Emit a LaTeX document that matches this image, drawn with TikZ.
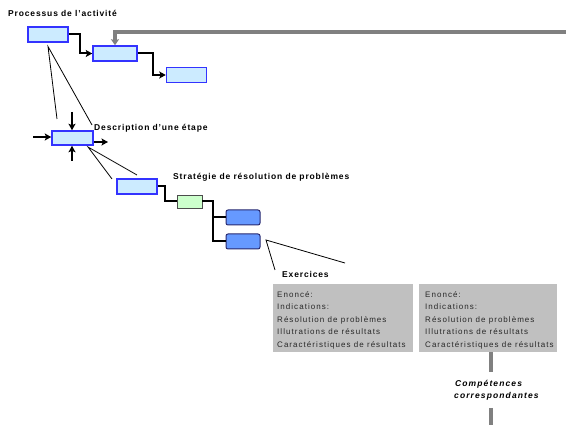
\documentclass[tikz,border=0pt]{standalone}
\usepackage{fontspec}
\setmainfont{Liberation Sans}
\newfontfamily\bsp[LetterSpace=10]{Liberation Sans}
\newfontfamily\rsp[LetterSpace=13]{Liberation Sans}
\newfontfamily\isp[LetterSpace=13]{Liberation Sans}
\usetikzlibrary{arrows.meta}
\definecolor{boxblue}{RGB}{51,51,255}
\definecolor{lightblue}{RGB}{204,235,255}
\definecolor{lightgreen}{RGB}{204,255,204}
\definecolor{midblue}{RGB}{102,153,255}
\definecolor{navy}{RGB}{40,40,110}
\definecolor{boxgray}{RGB}{192,192,192}
\definecolor{linegray}{RGB}{128,128,128}
\definecolor{textgray}{RGB}{40,40,40}
\begin{document}
\begin{tikzpicture}[x=1pt,y=-1pt,
  lbox/.style={draw=boxblue, fill=lightblue, line width=1.5pt, minimum width=40pt, minimum height=15pt, inner sep=0pt},
  gnbox/.style={draw=black!70, fill=lightgreen, line width=0.8pt, minimum width=25pt, minimum height=13pt, inner sep=0pt},
  rbox/.style={draw=navy, fill=midblue, rounded corners=2pt, line width=1pt, minimum width=34pt, minimum height=15pt, inner sep=0pt},
  graybox/.style={fill=boxgray, minimum width=140pt, minimum height=68pt, inner sep=0pt},
  conn/.style={line width=2pt, draw=black},
  arr/.style={conn, -{Stealth[length=6.5pt,width=7pt,inset=1.5pt]}},
  thinline/.style={line width=0.8pt, draw=black},
  glin/.style={draw=linegray, line width=3.5pt},
  ttl/.style={font={\bsp\bfseries\fontsize{8.5}{9}\selectfont}, anchor=base west, inner sep=0pt},
  gtxt/.style={font={\rsp\fontsize{8}{9}\selectfont}, text=textgray, anchor=base west, inner sep=0pt},
  itxt/.style={font={\isp\bfseries\itshape\fontsize{8.5}{9}\selectfont}, anchor=base west, inner sep=0pt}
]
\useasboundingbox (0,0) rectangle (566,425);

% titles
\node[ttl] (t1) at (8,16.5) {Processus de l’activité};
\node[ttl] (t2) at (94,130.5) {Description d’une étape};
\node[ttl] (t3) at (173,179.5) {Stratégie de résolution de problèmes};
\node[ttl] (t4) at (282,277.5) {Exercices};

% boxes
\node[lbox] (A) at (48,34.5) {};
\node[lbox, minimum width=44pt] (B) at (115,53.5) {};
\node[lbox] (C) at (186.5,75) {};
\node[lbox, minimum width=41pt, minimum height=14pt] (D) at (72.5,138) {};
\node[lbox] (E) at (137,186.5) {};
\node[gnbox] (G) at (189.5,201.5) {};
\node[rbox] (R1) at (243,217.5) {};
\node[rbox] (R2) at (243,241.5) {};
\node[graybox] (GB1) at (343,318) {};
\node[graybox, minimum width=138pt] (GB2) at (488,318) {};

% process connectors
\draw[arr] (A.east) -- ++(11,0) |- (B.west);
\draw[arr] (B.east) -- ++(15,0) |- (C.west);
\coordinate (gstart) at (566,32);
\draw[glin, -{Stealth[length=6pt,width=8pt,inset=1pt]}] (gstart) -| (B.north);

% zoom lines from A
\coordinate (a0) at (48,46.5);
\coordinate (a1) at (57,119);
\coordinate (a2) at (92,125);
\draw[thinline] (a1) -- (a0) -- (a2);

% ICOM arrows on D
\coordinate (din) at (33,137);
\coordinate (dtop) at (72,112);
\coordinate (dbot) at (72,161);
\coordinate (dout) at (108,142);
\draw[arr, line width=1.5pt] (din) -- (D.west |- din);
\draw[arr, line width=1.5pt] (dtop) -- (dtop |- D.north);
\draw[arr, line width=1.5pt] (dbot) -- (dbot |- D.south);
\draw[arr, line width=1.5pt] (D.east |- dout) -- (dout);

% zoom lines from D
\coordinate (d0) at (88,147);
\coordinate (d1) at (112,179);
\coordinate (d2) at (137,175);
\draw[thinline] (d1) -- (d0) -- (d2);

% strategy tree
\draw[conn] (E.east) -- ++(7,0) |- (G.west);
\draw[conn] (G.east) -- ++(11,0) coordinate (j) |- (R1.west);
\draw[conn] (j) |- (R2.west);

% zoom lines from R2
\coordinate (r0) at (266,240);
\coordinate (r1) at (275,270);
\coordinate (r2) at (345,263);
\draw[thinline] (r1) -- (r0) -- (r2);

% gray box texts
\foreach \i/\t in {0/Enoncé:,1/Indications:,2/Résolution de problèmes,3/Illutrations de résultats,4/Caractéristiques de résultats}{
  \node[gtxt] (ga\i) at (277,{297.5+12.4*\i}) {\t};
  \node[gtxt] (gb\i) at (425,{297.5+12.4*\i}) {\t};
}

% competences
\node[itxt] (k1) at (455,387) {Compétences};
\node[itxt] (k2) at (454,399) {correspondantes};
\coordinate (c1) at (491,372);
\coordinate (c2) at (491,408);
\coordinate (c3) at (491,425);
\draw[glin] (GB2.south -| c1) -- (c1);
\draw[glin] (c2) -- (c3);
\end{tikzpicture}
\end{document}
